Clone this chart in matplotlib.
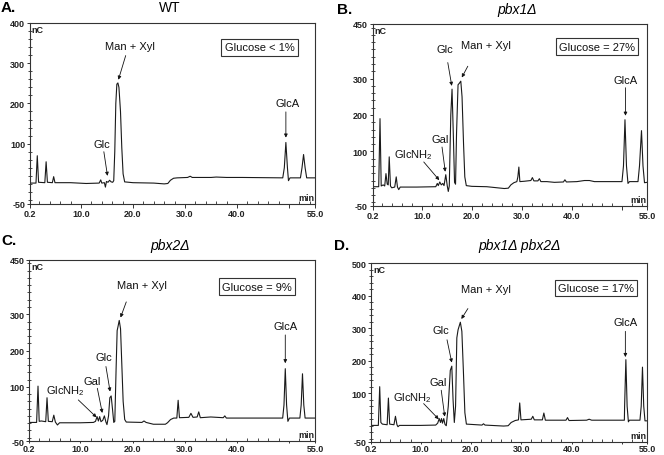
import matplotlib
matplotlib.use('Agg')
import matplotlib.pyplot as plt
from matplotlib.ticker import FixedLocator, MultipleLocator, FixedFormatter

plt.rcParams['font.family'] = ['Liberation Sans', 'DejaVu Sans']
plt.rcParams['mathtext.default'] = 'regular'

# ---------------- data ----------------
panel_letters = ['A.', 'B.', 'C.', 'D.']
panel_titles = ['WT', 'pbx1Δ', 'pbx2Δ', 'pbx1Δ pbx2Δ']
glucose_labels = ['Glucose < 1%', 'Glucose = 27%', 'Glucose = 9%', 'Glucose = 17%']

y_min = -50
y_max = [400, 450, 450, 500]
x_ticks = [0.2, 10, 20, 30, 40, 50, 55]
x_tick_labels = ['0.2', '10.0', '20.0', '30.0', '40.0', '', '55.0']
y_ticks_A = [-50, 100, 200, 300, 400]
y_ticks_B = [-50, 100, 200, 300, 450]
y_ticks_C = [-50, 100, 200, 300, 450]
y_ticks_D = [-50, 100, 200, 300, 400, 500]

# chromatogram traces (retention time in min, signal in nC)
time_A = [0.2, 1.35, 1.6, 1.85, 3.05, 3.3, 3.55, 4.5, 4.75, 5.0, 8.0, 11.0, 13.5, 13.8, 14.0,
          14.5, 14.7, 14.9, 15.2, 15.5, 15.8, 16.1, 16.3, 16.5, 16.7, 16.9, 17.1, 17.3, 17.6,
          17.85, 18.1, 18.4, 20.0, 24.0, 26.0, 26.7, 27.2, 27.8, 28.5, 30.5, 31.0, 31.4, 35.0,
          36.0, 38.0, 41.0, 48.8, 49.1, 49.4, 49.7, 49.9, 50.2, 52.2, 52.5, 52.8, 53.1, 53.4, 55.0]
signal_A = [2, 2, 70, 4, 3, 55, 4, 3, 18, 3, 3, 1, 2, 10, 2,
            3, -8, 6, 4, 9, 5, 4, 8, 80, 200, 248, 251, 240, 180,
            90, 25, 5, 3, 2, 0, 1, 9, 14, 15, 16, 19, 16, 16,
            17, 16, 16, 15, 40, 103, 40, 8, 15, 15, 40, 73, 40, 15, 15]

time_B = [0.2, 1.4, 1.66, 1.9, 2.3, 2.6, 2.85, 3.1, 3.3, 3.5, 3.75, 4.0, 4.6, 4.9, 5.15, 5.4,
          5.7, 9.0, 12.8, 13.1, 13.3, 13.6, 13.9, 14.2, 14.45, 14.8, 15.1, 15.3, 15.5, 15.8,
          16.05, 16.3, 16.55, 16.75, 16.95, 17.25, 17.5, 17.8, 18.05, 18.35, 18.6, 18.9, 20.0,
          23.0, 26.5, 27.3, 27.8, 28.4, 29.0, 29.2, 29.4, 29.6, 30.5, 31.8, 32.1, 32.4, 33.2,
          33.5, 33.8, 35.0, 36.5, 38.3, 38.6, 38.9, 41.0, 42.5, 43.5, 44.5, 50.0, 50.3, 50.6,
          50.9, 51.2, 51.5, 53.2, 53.5, 53.9, 54.2, 54.5, 55.0]
signal_B = [3, 3, 190, 5, 8, 5, 39, 10, 8, 85, 5, 0, 2, 30, 2, -5,
            2, 2, 3, 12, 6, 16, 8, 12, 6, 36, 5, -10, 5, 200,
            271, 150, 15, 10, 150, 283, 287, 293, 250, 120, 30, 6, 4,
            3, -2, -1, 8, 14, 17, 30, 57, 17, 18, 20, 28, 19, 19,
            25, 17, 17, 15, 16, 22, 16, 17, 20, 20, 17, 17, 60, 187,
            60, 12, 17, 17, 60, 157, 60, 14, 15]

time_C = [0.2, 1.6, 1.87, 2.1, 2.5, 3.35, 3.6, 3.85, 4.6, 4.9, 5.2, 5.6, 6.0, 10.0, 12.5, 12.9,
          13.2, 13.45, 13.7, 13.95, 14.3, 14.6, 14.9, 15.1, 15.4, 15.65, 15.9, 16.15, 16.4, 16.6,
          16.85, 17.05, 17.2, 17.45, 17.7, 17.95, 18.2, 18.5, 18.8, 21.8, 22.2, 22.6, 24.0, 26.3,
          26.7, 27.3, 27.9, 28.5, 28.75, 29.0, 30.8, 31.2, 31.6, 32.4, 32.7, 33.0, 35.0, 37.4,
          37.7, 38.0, 45.5, 48.8, 49.05, 49.3, 49.55, 49.8, 50.1, 52.1, 52.35, 52.6, 52.85, 53.1, 55.0]
signal_C = [2, 2, 102, 5, 6, 4, 70, 5, 4, 22, 3, -5, 1, 1, 2, 5,
            18, 6, 18, 4, 8, 20, 3, -4, 20, 70, 75, 40, 2, 5,
            150, 255, 265, 283, 260, 160, 60, 10, 3, 2, 6, 2, -3, -3,
            1, 10, 14, 14, 63, 15, 16, 27, 16, 17, 31, 15, 17, 15,
            20, 14, 14, 14, 50, 150, 50, 5, 14, 14, 50, 136, 50, 14, 14]

time_D = [0.2, 1.6, 1.87, 2.1, 2.4, 3.35, 3.6, 3.85, 4.7, 5.0, 5.3, 5.5, 5.8, 10.0, 13.0, 13.4,
          13.7, 13.95, 14.15, 14.35, 14.6, 14.85, 15.1, 15.5, 15.9, 16.2, 16.45, 16.7, 16.95,
          17.2, 17.45, 17.9, 18.2, 18.5, 18.8, 19.1, 22.2, 22.5, 22.8, 26.5, 27.4, 28.0, 28.8,
          29.45, 29.7, 29.95, 32.0, 32.3, 32.6, 34.2, 34.5, 34.8, 38.9, 39.2, 39.5, 43.0, 43.5,
          44.0, 50.5, 50.55, 50.8, 51.05, 51.3, 51.5, 53.6, 53.85, 54.1, 54.35, 54.6, 55.0]
signal_D = [1, 1, 120, 10, 5, 3, 85, 5, 3, 29, 3, -3, 1, 1, 2, 8,
            22, 10, 22, 8, 22, 4, 0, 60, 170, 183, 80, 10, 60,
            270, 295, 318, 290, 170, 40, 5, 2, 6, 2, -1, 0, 10, 16,
            18, 70, 18, 20, 29, 18, 18, 39, 17, 17, 25, 16, 17, 20,
            17, 17, 60, 203, 60, 12, 17, 17, 60, 180, 60, 15, 15]

# peak annotations: label, text position, arrow tail, arrow head (data coords)
annot_A = [('Man + Xyl', (19.4, 342), (18.6, 319), (17.2, 259)),
           ('Glc', (14.0, 99), (14.4, 80), (15.1, 20)),
           ('GlcA', (49.7, 202), (49.4, 179), (49.4, 115))]
annot_B = [('Man + Xyl', (22.8, 393), (19.2, 334), (18.0, 303)),
           ('Glc', (14.7, 380), (15.2, 344), (16.0, 280)),
           ('Gal', (13.6, 135), (14.05, 112), (14.7, 44)),
           ('GlcNH$_2$', (8.4, 92), (10.4, 71), (13.5, 21)),
           ('GlcA', (50.7, 295), (50.7, 275), (50.7, 198))]
annot_C = [('Man + Xyl', (21.8, 380), (18.8, 334), (17.7, 291)),
           ('Glc', (14.5, 181), (14.9, 156), (15.7, 87)),
           ('Gal', (12.3, 115), (13.25, 96), (14.2, 28)),
           ('GlcNH$_2$', (7.2, 90), (9.6, 64), (13.1, 16)),
           ('GlcA', (49.3, 267), (49.3, 243), (49.3, 165))]
annot_D = [('Man + Xyl', (23.0, 420), (19.4, 360), (18.1, 328)),
           ('Glc', (14.1, 294), (15.25, 264), (16.2, 194)),
           ('Gal', (13.5, 134), (14.1, 109), (14.8, 28)),
           ('GlcNH$_2$', (8.4, 87), (10.6, 68), (13.6, 20)),
           ('GlcA', (50.7, 318), (50.7, 290), (50.7, 211))]

# ---------------- layout ----------------
W, H = 664, 456
fig = plt.figure(figsize=(W / 100, H / 100), dpi=100)
fig.patch.set_facecolor('white')

axes_px = [(30, 205, 285, 181), (372.7, 207, 274.3, 182),
           (29.3, 442.3, 285.7, 181.5), (371.3, 443, 275.7, 179)]
xlab_len = [3, 3, 1.5, 1.5]
xlab_pad = [0.6, 0.6, 0.4, 0.3]
letter_px = [(1, 8.5), (337, 10), (1, 241), (334, 246)]
title_px = [(170, 8.5), (517, 10), (170, 246), (520, 246)]
box_pos = [(0.805, 0.866), (0.818, 0.875), (0.796, 0.852), (0.815, 0.861)]

traces = [(time_A, signal_A), (time_B, signal_B), (time_C, signal_C), (time_D, signal_D)]
yticks = [y_ticks_A, y_ticks_B, y_ticks_C, y_ticks_D]
annots = [annot_A, annot_B, annot_C, annot_D]
line_col = '#1a1a1a'

for i in range(4):
    l, b, w, h = axes_px[i]
    ax = fig.add_axes([l / W, (H - b) / H, w / W, h / H])
    t, s = traces[i]
    ax.plot(t, s, color=line_col, lw=0.8)
    ax.set_xlim(0.2, 55)
    ax.set_ylim(y_min, y_max[i])
    ax.xaxis.set_major_locator(FixedLocator(x_ticks))
    ax.xaxis.set_major_formatter(FixedFormatter(x_tick_labels))
    ax.xaxis.set_minor_locator(MultipleLocator(2))
    ax.yaxis.set_major_locator(FixedLocator(yticks[i]))
    ax.yaxis.set_major_formatter(FixedFormatter([str(v) for v in yticks[i]]))
    ax.yaxis.set_minor_locator(MultipleLocator(20))
    ax.tick_params(axis='both', which='major', labelsize=6.5, width=0.7, color='#333333')
    ax.tick_params(axis='x', which='major', direction='out', length=xlab_len[i], pad=xlab_pad[i])
    ax.tick_params(axis='x', which='minor', direction='in', length=2, width=0.5)
    ax.tick_params(axis='y', which='major', direction='out', length=2.5, pad=1.0)
    ax.tick_params(axis='y', which='minor', direction='inout', length=2.5, width=0.5)
    for lab in ax.get_xticklabels() + ax.get_yticklabels():
        lab.set_fontweight('bold')
        lab.set_color('#222222')
    for sp in ax.spines.values():
        sp.set_linewidth(0.8)
        sp.set_color('#333333')

    ax.text(0.006, 0.99, 'nC', transform=ax.transAxes, ha='left', va='top',
            fontsize=6.5, fontweight='bold', color='#222222')
    ax.text(0.999, 0.012, 'min', transform=ax.transAxes, ha='right', va='bottom',
            fontsize=6.5, fontweight='bold', color='#222222')

    for label, txy, tail, head in annots[i]:
        ax.text(txy[0], txy[1], label, ha='center', va='center', fontsize=8, color='#111111')
        ax.annotate('', xy=head, xytext=tail,
                    arrowprops=dict(arrowstyle='-|>', lw=0.6, color='#111111',
                                    mutation_scale=5, shrinkA=0, shrinkB=0))

    bx, by = box_pos[i]
    ax.text(bx, by, glucose_labels[i], transform=ax.transAxes, ha='center', va='center',
            fontsize=8, color='#111111',
            bbox=dict(boxstyle='square,pad=0.3', fc='white', ec='#333333', lw=0.8))

    lx, ly = letter_px[i]
    fig.text(lx / W, 1 - ly / H, panel_letters[i], ha='left', va='center',
             fontsize=11, fontweight='bold')
    tx, ty = title_px[i]
    fig.text(tx / W, 1 - ty / H, panel_titles[i], ha='center', va='center',
             fontsize=10, style='normal' if i == 0 else 'italic')

fig.savefig('out.png', dpi=100, facecolor='white')
